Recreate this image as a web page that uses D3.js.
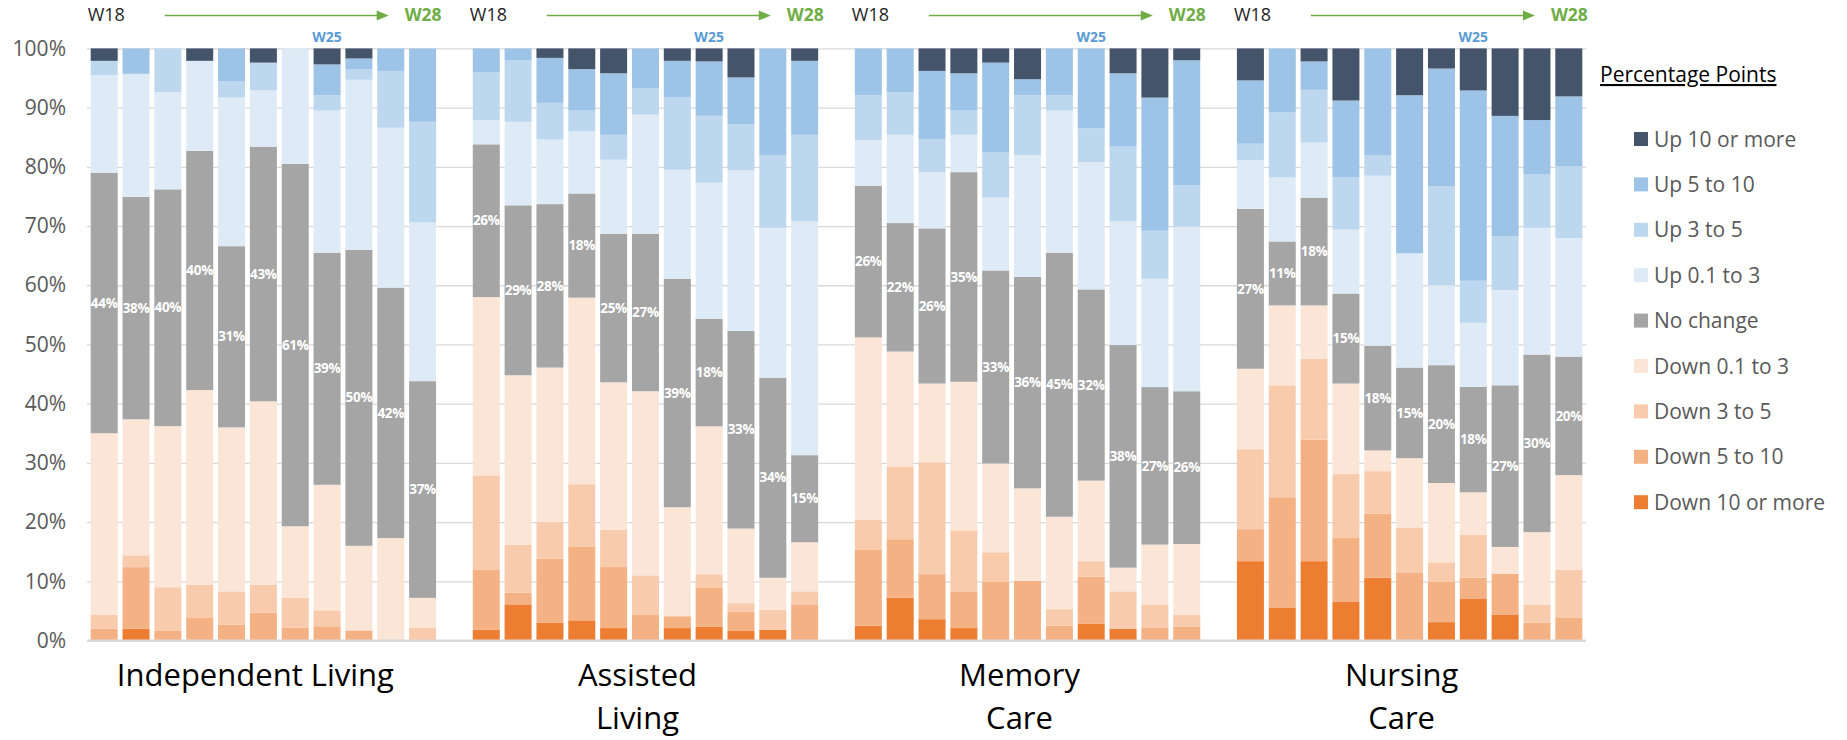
<!DOCTYPE html>
<html><head><meta charset="utf-8">
<script src="https://cdn.jsdelivr.net/npm/d3@7"></script>
<style>body{margin:0;background:#fff} svg{display:block} text{font-family:"Open Sans",sans-serif}</style>
</head><body><svg id="chart" width="1847" height="740"></svg>
<script>
// ---------- data ----------
const groups = ["Independent Living", "Assisted Living", "Memory Care", "Nursing Care"];
const groupLines = [["Independent Living"], ["Assisted", "Living"], ["Memory", "Care"], ["Nursing", "Care"]];
const weeks = ["W18", "W19", "W20", "W21", "W22", "W23", "W24", "W25", "W26", "W27", "W28"];
const highlightWeek = "W25";
const legendTitle = "Percentage Points";
const seriesKeys = ["downTen", "downFive", "downThree", "downSmall", "noChange", "upSmall", "upThree", "upFive", "upTen"];
const seriesNames = ["Down 10 or more", "Down 5 to 10", "Down 3 to 5", "Down 0.1 to 3", "No change", "Up 0.1 to 3", "Up 3 to 5", "Up 5 to 10", "Up 10 or more"];
const seriesColors = ["#ED7D31", "#F4B183", "#F8CBAD", "#FBE5D6", "#A5A5A5", "#DEEBF7", "#BDD7EE", "#9DC3E6", "#44546A"];
const yTickValues = [0, 0.1, 0.2, 0.3, 0.4, 0.5, 0.6, 0.7, 0.8, 0.9, 1];

// values in % of properties; order: IL(11), AL(11), MC(11), NC(11)
const downTen = [
  0, 2.0, 0, 0, 0, 0, 0, 0, 0, 0, 0,
  1.8, 6.1, 3.0, 3.4, 2.1, 0, 2.1, 2.3, 1.6, 1.8, 0,
  2.5, 7.2, 3.6, 2.1, 0, 0, 0, 2.8, 2.0, 0, 0,
  13.4, 5.5, 13.4, 6.5, 10.6, 0, 3.1, 7.0, 4.4, 0, 0];
const downFive = [
  2.0, 10.4, 1.7, 3.8, 2.7, 4.7, 2.2, 2.4, 1.7, 0, 0,
  10.1, 2.0, 10.8, 12.4, 10.3, 4.3, 2.0, 6.7, 3.2, 0, 6.1,
  12.8, 9.9, 7.6, 6.2, 9.9, 10.1, 2.5, 8.0, 0, 2.1, 2.3,
  5.4, 18.7, 20.5, 10.8, 10.8, 11.4, 6.8, 3.6, 6.9, 3.0, 3.8];
const downThree = [
  2.3, 2.0, 7.3, 5.6, 5.6, 4.7, 5.0, 2.7, 0, 0, 2.2,
  16.0, 8.1, 6.2, 10.6, 6.3, 6.7, 0, 2.2, 1.5, 3.4, 2.2,
  5.1, 12.2, 18.9, 10.3, 5.0, 0, 2.8, 2.6, 6.3, 3.9, 2.1,
  13.5, 18.9, 13.7, 10.8, 7.2, 7.7, 3.3, 7.2, 0, 3.0, 8.1];
const downSmall = [
  30.7, 23.0, 27.2, 32.9, 27.7, 31.0, 12.1, 21.2, 14.3, 17.3, 5.0,
  30.1, 28.6, 26.1, 31.5, 24.9, 31.1, 18.4, 25.0, 12.6, 5.4, 8.3,
  30.8, 19.5, 13.3, 25.1, 15.0, 15.6, 15.6, 13.6, 4.0, 10.2, 11.9,
  13.6, 13.5, 9.0, 15.3, 3.5, 11.7, 13.4, 7.2, 4.5, 12.3, 16.0];
const noChange = [
  44.0, 37.6, 40.0, 40.4, 30.6, 43.0, 61.2, 39.2, 50.0, 42.3, 36.6,
  25.8, 28.7, 27.6, 17.6, 25.1, 26.6, 38.6, 18.2, 33.4, 33.8, 14.7,
  25.6, 21.7, 26.2, 35.4, 32.6, 35.7, 44.6, 32.3, 37.6, 26.6, 25.8,
  27.0, 10.8, 18.2, 15.2, 17.7, 15.3, 19.9, 17.8, 27.3, 30.0, 20.0];
const upSmall = [
  16.5, 20.8, 16.4, 15.2, 25.1, 9.5, 19.5, 24.0, 28.7, 27.0, 26.8,
  4.1, 14.1, 10.9, 10.5, 12.5, 20.1, 18.4, 23.0, 27.1, 25.3, 39.5,
  7.7, 14.9, 9.5, 6.3, 12.3, 20.6, 24.0, 21.5, 20.9, 18.3, 27.8,
  8.2, 10.8, 9.3, 10.8, 28.7, 19.3, 13.5, 10.8, 16.1, 21.4, 20.0];
const upThree = [
  2.4, 0, 7.4, 0, 2.7, 4.7, 0, 2.6, 1.8, 9.6, 17.0,
  8.1, 10.4, 6.2, 3.5, 4.2, 4.5, 12.2, 11.3, 7.8, 12.3, 14.6,
  7.6, 7.2, 5.6, 4.1, 7.7, 10.1, 2.6, 5.7, 12.6, 8.1, 7.0,
  2.8, 11.0, 8.9, 8.8, 3.5, 0, 16.7, 7.1, 9.1, 9.0, 12.1];
const upFive = [
  0, 4.3, 0, 0, 5.6, 0, 0, 5.2, 1.8, 3.8, 12.4,
  4.0, 2.0, 7.6, 7.0, 10.4, 6.7, 6.2, 9.2, 7.9, 18.0, 12.5,
  7.9, 7.4, 11.5, 6.3, 15.1, 2.7, 7.9, 13.5, 12.4, 22.5, 21.1,
  10.7, 10.8, 4.8, 13.0, 18.0, 26.7, 19.9, 32.1, 20.3, 9.2, 11.8];
const upTen = [
  2.1, 0, 0, 2.1, 0, 2.4, 0, 2.7, 1.7, 0, 0,
  0, 0, 1.6, 3.5, 4.2, 0, 2.1, 2.2, 4.9, 0, 2.1,
  0, 0, 3.8, 4.2, 2.4, 5.2, 0, 0, 4.2, 8.3, 2.0,
  5.4, 0, 2.2, 8.8, 0, 7.9, 3.4, 7.1, 11.4, 12.1, 8.1];

// ---------- table ----------
const seriesData = {downTen, downFive, downThree, downSmall, noChange, upSmall, upThree, upFive, upTen};
const rows = [];
groups.forEach((g, gi) => weeks.forEach((w, wi) => {
  const i = gi * weeks.length + wi;
  const r = {key: g + "|" + w, group: g, week: w};
  seriesKeys.forEach(k => r[k] = seriesData[k][i]);
  rows.push(r);
}));
const domain = [];
groups.forEach((g, gi) => { if (gi > 0) domain.push("gap" + gi); weeks.forEach(w => domain.push(g + "|" + w)); });

// ---------- scales ----------
const svg = d3.select("#chart");
const left = 87, right = 1586;
const x = d3.scaleBand().domain(domain).range([left, right]).paddingInner(0.152).paddingOuter(0.116);
const y = d3.scaleLinear().domain([0, 1]).range([640.5, 48.4]);
const color = d3.scaleOrdinal().domain(seriesKeys).range(seriesColors);
const bw = x.bandwidth();

// gridlines
const grid = svg.append("g").attr("transform", `translate(${left},0)`)
  .call(d3.axisLeft(y).tickValues(yTickValues).tickSize(-(right - left)).tickFormat(""));
grid.select(".domain").remove();
grid.selectAll("line").attr("stroke", "#D9D9D9").attr("stroke-width", 1.3);

// y axis labels
const yAxis = svg.append("g").attr("transform", "translate(66,0)")
  .call(d3.axisLeft(y).tickValues(yTickValues).tickSize(0).tickPadding(0).tickFormat(d3.format(".0%")));
yAxis.select(".domain").remove();
yAxis.selectAll("text").attr("fill", "#595959").style("font-size", "21px").style("font-family", '"Open Sans",sans-serif');

// bars
const stack = d3.stack().keys(seriesKeys).offset(d3.stackOffsetExpand);
const layers = stack(rows);
svg.append("g").selectAll("g").data(layers).join("g")
  .attr("fill", d => color(d.key))
  .selectAll("rect").data(d => d).join("rect")
  .attr("x", d => x(d.data.key))
  .attr("y", d => y(d[1]))
  .attr("width", bw)
  .attr("height", d => Math.max(0, y(d[0]) - y(d[1])));

// baseline
svg.append("line").attr("x1", left).attr("x2", right).attr("y1", y(0)).attr("y2", y(0))
  .attr("stroke", "#D9D9D9").attr("stroke-width", 2);

// no-change labels
const ncLayer = layers.find(l => l.key === "noChange");
svg.append("g").selectAll("text").data(ncLayer).join("text")
  .attr("x", d => x(d.data.key) + bw / 2)
  .attr("y", d => (y(d[0]) + y(d[1])) / 2)
  .attr("dy", "0.35em")
  .attr("text-anchor", "middle")
  .attr("fill", "#fff")
  .style("font-size", "13.5px").style("font-weight", "700").style("letter-spacing", "-0.3px")
  .text(d => Math.round(d.data.noChange) + "%");

// headers per group
groups.forEach((g, gi) => {
  const x0 = x(g + "|" + weeks[0]);
  const hg = svg.append("g");
  hg.append("text").attr("x", x0 - 3).attr("y", 20.5).attr("fill", "#262626")
    .style("font-size", "18px").text(weeks[0]);
  hg.append("line").attr("x1", x0 + 74).attr("x2", x0 + 288).attr("y1", 15.5).attr("y2", 15.5)
    .attr("stroke", "#70AD47").attr("stroke-width", 1.5);
  hg.append("path").attr("d", `M${x0 + 286},10.5 L${x0 + 298},15.5 L${x0 + 286},20.5 Z`).attr("fill", "#70AD47");
  hg.append("text").attr("x", x0 + 314).attr("y", 21).attr("fill", "#70AD47")
    .style("font-size", "17.5px").style("font-weight", "700").text(weeks[weeks.length - 1]);
  hg.append("text").attr("x", x(g + "|" + highlightWeek) + bw / 2).attr("y", 42).attr("text-anchor", "middle")
    .attr("fill", "#5B9BD5").style("font-size", "14px").style("font-weight", "700").text(highlightWeek);

  const cx = (x0 + x(g + "|" + weeks[weeks.length - 1]) + bw) / 2 - 8;
  const lt = svg.append("text").attr("text-anchor", "middle").attr("fill", "#000").style("font-size", "31px");
  groupLines[gi].forEach((ln, li) => lt.append("tspan").attr("x", cx).attr("y", 686 + li * 43).text(ln));
});

// legend
const lg = svg.append("g");
lg.append("text").attr("x", 1600).attr("y", 82).attr("fill", "#000")
  .style("font-size", "21px").style("text-decoration", "underline").text(legendTitle);
const legendOrder = seriesKeys.map((k, i) => i).reverse();
legendOrder.forEach((si, j) => {
  const cy = 139 + j * 45.4;
  lg.append("rect").attr("x", 1634).attr("y", cy - 7).attr("width", 14).attr("height", 14).attr("fill", seriesColors[si]);
  lg.append("text").attr("x", 1654).attr("y", cy + 7.5).attr("fill", "#595959")
    .style("font-size", "21px").text(seriesNames[si]);
});
</script>
</body></html>
